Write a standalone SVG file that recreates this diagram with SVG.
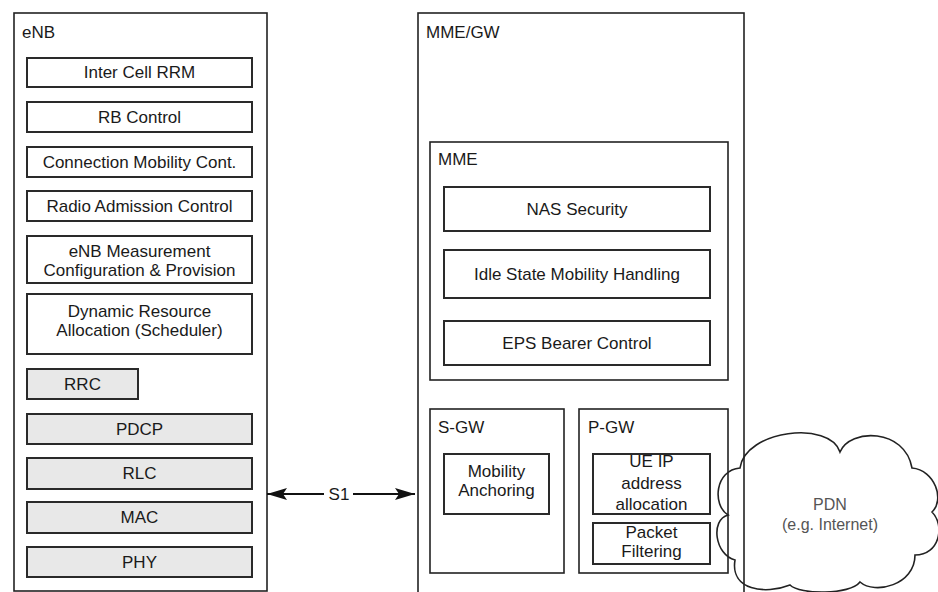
<svg xmlns="http://www.w3.org/2000/svg" width="938" height="592" viewBox="0 0 938 592">
<defs>
<style>
.outer{fill:none;stroke:#222;stroke-width:1.6}
.box{fill:#fff;stroke:#2a2a2a;stroke-width:2}
.gbox{fill:#e8e8e8;stroke:#2a2a2a;stroke-width:2}
.t{font-family:"Liberation Sans",Arial,sans-serif;font-size:17px;fill:#1a1a1a}
.c{text-anchor:middle}
.lbl{font-family:"Liberation Sans",Arial,sans-serif;font-size:17px;fill:#1a1a1a}
.conn{stroke:#111;stroke-width:1.8;fill:none}
.cloud{fill:none;stroke:#222;stroke-width:1.6}
.pdn{font-family:"Liberation Sans",Arial,sans-serif;font-size:16px;fill:#555;text-anchor:middle}
</style>
<marker id="ah" viewBox="0 0 20 12" markerWidth="20" markerHeight="12" markerUnits="userSpaceOnUse" refX="20" refY="6" orient="auto-start-reverse">
<path d="M0,0 L20,6 L0,12 L4,6 z" fill="#111"/>
</marker>
</defs>
<rect width="938" height="592" fill="#fff"/>

<g id="enb">
<rect class="outer" x="14" y="13" width="253" height="578"/>
<text class="lbl" x="22" y="38">eNB</text>
</g>
<g id="inter-cell-rrm"><rect class="box" x="27" y="58" width="225" height="29"/><text class="t c" x="139.5" y="78">Inter Cell RRM</text></g>
<g id="rb-control"><rect class="box" x="27" y="102" width="225" height="30"/><text class="t c" x="139.5" y="123">RB Control</text></g>
<g id="connection-mobility"><rect class="box" x="27" y="147" width="225" height="30"/><text class="t c" x="139.5" y="168">Connection Mobility Cont.</text></g>
<g id="radio-admission"><rect class="box" x="27" y="191" width="225" height="30"/><text class="t c" x="139.5" y="212">Radio Admission Control</text></g>
<g id="enb-measurement"><rect class="box" x="27" y="236" width="225" height="47"/><text class="t c" x="139.5" y="257">eNB Measurement</text><text class="t c" x="139.5" y="276">Configuration &amp; Provision</text></g>
<g id="dynamic-resource"><rect class="box" x="27" y="294" width="225" height="60"/><text class="t c" x="139.5" y="317">Dynamic Resource</text><text class="t c" x="139.5" y="336">Allocation (Scheduler)</text></g>
<g id="rrc"><rect class="gbox" x="27" y="369" width="111" height="30"/><text class="t c" x="82.5" y="390">RRC</text></g>
<g id="pdcp"><rect class="gbox" x="27" y="414" width="225" height="30"/><text class="t c" x="139.5" y="435">PDCP</text></g>
<g id="rlc"><rect class="gbox" x="27" y="458" width="225" height="31"/><text class="t c" x="139.5" y="479">RLC</text></g>
<g id="mac"><rect class="gbox" x="27" y="502" width="225" height="31"/><text class="t c" x="139.5" y="523">MAC</text></g>
<g id="phy"><rect class="gbox" x="27" y="547" width="225" height="30"/><text class="t c" x="139.5" y="568">PHY</text></g>

<g id="mme-gw">
<rect class="outer" x="418" y="13" width="326" height="590"/>
<text class="lbl" x="426" y="38">MME/GW</text>
</g>
<g id="mme">
<rect class="outer" x="430" y="142" width="298" height="238"/>
<text class="lbl" x="438" y="165">MME</text>
</g>
<g id="nas-security"><rect class="box" x="444" y="187" width="266" height="44"/><text class="t c" x="577" y="215">NAS Security</text></g>
<g id="idle-state"><rect class="box" x="444" y="250" width="266" height="48"/><text class="t c" x="577" y="280">Idle State Mobility Handling</text></g>
<g id="eps-bearer"><rect class="box" x="444" y="321" width="266" height="44"/><text class="t c" x="577" y="349">EPS Bearer Control</text></g>

<g id="s-gw">
<rect class="outer" x="430" y="409" width="134" height="164"/>
<text class="lbl" x="438" y="433">S-GW</text>
</g>
<g id="mobility-anchoring"><rect class="box" x="444" y="454" width="105" height="60"/><text class="t c" x="496.5" y="477">Mobility</text><text class="t c" x="496.5" y="496">Anchoring</text></g>

<g id="p-gw">
<rect class="outer" x="579" y="409" width="149" height="164"/>
<text class="lbl" x="588" y="433">P-GW</text>
</g>
<g id="ue-ip"><rect class="box" x="593" y="454" width="117" height="60"/><text class="t c" x="651.5" y="467">UE IP</text><text class="t c" x="651.5" y="489">address</text><text class="t c" x="651.5" y="510">allocation</text></g>
<g id="packet-filtering"><rect class="box" x="593" y="523" width="117" height="41"/><text class="t c" x="651.5" y="538">Packet</text><text class="t c" x="651.5" y="557">Filtering</text></g>

<g id="pdn">
<path class="cloud" d="M740,468 C745,430 830,420 840,452 C850,428 905,428 912,468 C935,470 945,500 932,512 C945,525 940,555 915,555 C915,585 875,595 860,582 C850,595 800,595 790,585 C765,595 730,590 735,560 C715,555 710,520 728,515 C712,505 715,470 740,468 Z"/>
<text class="pdn" x="830" y="510">PDN</text>
<text class="pdn" x="830" y="530">(e.g. Internet)</text>
</g>

<g id="connectors">
<line class="conn" x1="267" y1="494" x2="324" y2="494" marker-start="url(#ah)"/>
<line class="conn" x1="353" y1="494" x2="415" y2="494" marker-end="url(#ah)"/>
<text class="t c" x="339" y="500">S1</text>
</g>
</svg>
